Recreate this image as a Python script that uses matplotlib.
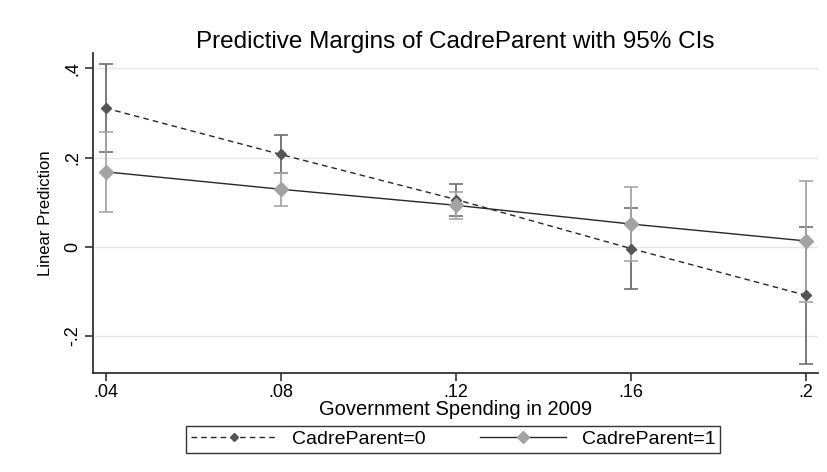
import matplotlib
matplotlib.use("Agg")
import matplotlib.pyplot as plt
from matplotlib.lines import Line2D
import numpy as np

spending = [0.04, 0.08, 0.12, 0.16, 0.20]
xtick_labels = [".04", ".08", ".12", ".16", ".2"]
ytick_values = [-0.2, 0.0, 0.2, 0.4]
ytick_labels = ["-.2", "0", ".2", ".4"]

# CadreParent = 0
margin0 = [0.311, 0.207, 0.106, -0.004, -0.109]
lo0 = [0.212, 0.166, 0.070, -0.095, -0.263]
hi0 = [0.410, 0.250, 0.140, 0.087, 0.045]

# CadreParent = 1
margin1 = [0.168, 0.129, 0.093, 0.051, 0.013]
lo1 = [0.078, 0.091, 0.062, -0.031, -0.123]
hi1 = [0.258, 0.165, 0.123, 0.134, 0.148]

plt.rcParams["font.family"] = ["Liberation Sans", "DejaVu Sans"]

fig = plt.figure(figsize=(8.27, 4.72), dpi=100)
ax = fig.add_axes([0.112, 0.21, 0.877, 0.678])

dark_ci, light_ci = "#6e6e6e", "#a6a6a6"
dark_mk, light_mk = "#555555", "#a3a3a3"
line_col = "#262626"

# confidence intervals
ax.errorbar(spending, margin0,
            yerr=[np.subtract(margin0, lo0), np.subtract(hi0, margin0)],
            fmt="none", ecolor=dark_ci, elinewidth=1.3, capsize=5, capthick=1.2, zorder=3)
ax.errorbar(spending, margin1,
            yerr=[np.subtract(margin1, lo1), np.subtract(hi1, margin1)],
            fmt="none", ecolor=light_ci, elinewidth=1.3, capsize=5, capthick=1.2, zorder=3)

# connecting lines and point estimates
ax.plot(spending, margin0, color=line_col, lw=1.0, ls=(0, (4, 3)), zorder=2)
ax.plot(spending, margin1, color=line_col, lw=1.0, ls="-", zorder=2)
ax.plot(spending, margin0, ls="none", marker="D", ms=5.5, color=dark_mk, mec=dark_mk, zorder=4)
ax.plot(spending, margin1, ls="none", marker="D", ms=7, color=light_mk, mec=light_mk, zorder=4)

ax.set_xlim(0.037, 0.2027)
ax.set_ylim(-0.283, 0.435)
ax.set_xticks(spending)
ax.set_xticklabels(xtick_labels, fontsize=13)
ax.set_yticks(ytick_values)
ax.set_yticklabels(ytick_labels, fontsize=13, rotation=90, va="center")
ax.yaxis.grid(True, color="#e6e6e6", lw=1.0)
ax.set_axisbelow(True)

for s in ("top", "right"):
    ax.spines[s].set_visible(False)
for s in ("left", "bottom"):
    ax.spines[s].set_color("#333333")
    ax.spines[s].set_linewidth(1.3)
ax.tick_params(axis="both", length=6, width=1.2, color="#333333", pad=2)

ax.set_xlabel("Government Spending in 2009", fontsize=14.5, labelpad=-1)
ax.set_ylabel("Linear Prediction", fontsize=12, labelpad=8)
ax.set_title("Predictive Margins of CadreParent with 95% CIs", fontsize=17.5, pad=3)

handles = [
    Line2D([], [], color=line_col, lw=1.0, ls=(0, (4, 3)), marker="D", ms=4.5,
           mfc=dark_mk, mec=dark_mk),
    Line2D([], [], color=line_col, lw=1.0, ls="-", marker="D", ms=6,
           mfc=light_mk, mec=light_mk),
]
leg = fig.legend(handles, ["CadreParent=0", "CadreParent=1"], ncol=2,
                 loc="center", bbox_to_anchor=(0.548, 0.069), fontsize=14,
                 frameon=True, fancybox=False, edgecolor="black", handlelength=4.4,
                 columnspacing=2.8, borderpad=0.25, handletextpad=0.8)
leg.get_frame().set_linewidth(1.0)

fig.savefig("out.png", dpi=100)
